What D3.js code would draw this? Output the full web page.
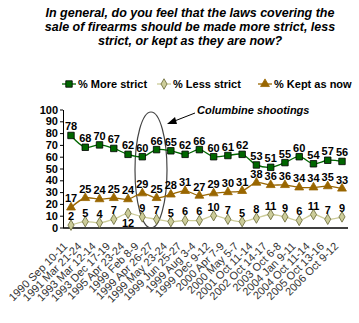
<!DOCTYPE html>
<html><head><meta charset="utf-8">
<script src="https://cdn.jsdelivr.net/npm/d3@7"></script>
<style>body{margin:0;background:#fff}svg{display:block}</style>
</head><body>
<script>
const categories = ["1990 Sep 10-11","1991 Mar 21-24","1993 Mar 12-14","1993 Dec 17-19","1995 Apr 23-24","1999 Feb 8-9","1999 Apr 26-27","1999 May 23-24","1999 Jun 25-27","1999 Aug 3-4","1999 Dec 9-12","2000 Apr 7-9","2000 May 5-7","2001 Oct 11-14","2002 Oct 14-17","2003 Oct 6-8","2004 Jan 9-11","2004 Oct 11-14","2005 Oct 13-16","2006 Oct 9-12"];
const moreStrict = [78,68,70,67,62,60,66,65,62,66,60,61,62,53,51,55,60,54,57,56];
const lessStrict = [2,5,4,7,12,9,7,5,6,6,10,7,5,8,11,9,6,11,7,9];
const keptAsNow = [17,25,24,25,24,29,25,28,31,27,29,30,31,38,36,36,34,34,35,33];
const yTicks = [0,10,20,30,40,50,60,70,80,90,100];
const titleLines = ["In general, do you feel that the laws covering the","sale of firearms should be made more strict, less","strict, or kept as they are now?"];

const W=359,H=323;
const svg=d3.select("body").append("svg").attr("width",W).attr("height",H);
const x=d3.scalePoint().domain(categories).range([71,342]);
const y=d3.scaleLinear().domain([0,100]).range([227.5,109.5]);

// title
svg.append("g").selectAll("text").data(titleLines).join("text")
 .attr("x",190).attr("y",(d,i)=>17+i*14).attr("text-anchor","middle")
 .style("font","italic bold 12.5px 'Liberation Sans',Arial,sans-serif").attr("fill","#000").text(d=>d);

// axes
const yAxis=svg.append("g").attr("transform","translate(63,0)")
 .call(d3.axisLeft(y).tickValues(yTicks).tickSize(3).tickSizeOuter(0));
yAxis.select(".domain").attr("stroke","#000");
yAxis.selectAll("text").style("font","bold 11px 'Liberation Sans',Arial,sans-serif").attr("fill","#000").attr("x",-5);
const xAxis=svg.append("g").attr("transform","translate(0,228)")
 .call(d3.axisBottom(x).tickSize(0).tickSizeOuter(0).tickFormat(""));
xAxis.select(".domain").attr("d","M63,0H348").attr("stroke","#000").attr("stroke-width",1.5);
svg.append("g").selectAll("text").data(categories).join("text")
 .attr("transform",d=>`translate(${x(d)-3},247) rotate(-45)`)
 .attr("text-anchor","end")
 .style("font","11px 'Liberation Sans',Arial,sans-serif").attr("fill","#333").text(d=>d);

// ellipse
svg.append("ellipse").attr("cx",151).attr("cy",170).attr("rx",16).attr("ry",58)
 .attr("fill","none").attr("stroke","#444").attr("stroke-width",1.2);

const series=[
 {name:"% More strict",vals:moreStrict,color:"#006600",fill:"#006600",stroke:"#000",shape:d3.symbolSquare,size:42},
 {name:"% Less strict",vals:lessStrict,color:"#cccc99",fill:"#cccc99",stroke:"#666633",shape:d3.symbolDiamond,size:32},
 {name:"% Kept as now",vals:keptAsNow,color:"#996600",fill:"#996600",stroke:"#996600",shape:d3.symbolTriangle,size:34}
];
const line=d3.line().x((d,i)=>x(categories[i])).y(d=>y(d)).curve(d3.curveCatmullRom.alpha(0.5));
series.forEach(s=>{
 const g=svg.append("g");
 g.append("path").datum(s.vals).attr("d",line).attr("fill","none").attr("stroke",s.color).attr("stroke-width",1.3);
 g.selectAll("path.m").data(s.vals).join("path").attr("class","m")
  .attr("transform",(d,i)=>`translate(${x(categories[i])},${y(d)})`)
  .attr("d",d3.symbol().type(s.shape).size(s.size)).attr("fill",s.fill).attr("stroke",s.stroke).attr("stroke-width",0.8);
 g.selectAll("text").data(s.vals).join("text")
  .attr("x",(d,i)=>x(categories[i])).attr("y",(d,i)=>(s.name==="% Less strict"&&d===12)?y(d)+14:y(d)-5)
  .attr("text-anchor","middle").style("font","bold 11px 'Liberation Sans',Arial,sans-serif").attr("fill","#000").text(d=>d);
});

// legend
const legX=[62,157,258];
series.forEach((s,i)=>{
 const g=svg.append("g").attr("transform",`translate(${legX[i]},84)`);
 g.append("line").attr("x1",0).attr("x2",14).attr("stroke",s.color).attr("stroke-width",1.3);
 g.append("path").attr("transform","translate(7,0)").attr("d",d3.symbol().type(s.shape).size(s.size)).attr("fill",s.fill).attr("stroke",s.stroke).attr("stroke-width",0.8);
 g.append("text").attr("x",16).attr("y",4).style("font","bold 11px 'Liberation Sans',Arial,sans-serif").attr("fill","#000").text(s.name);
});

// annotation
svg.append("text").attr("x",197).attr("y",114).style("font","italic bold 11px 'Liberation Sans',Arial,sans-serif").attr("fill","#000").text("Columbine shootings");
svg.append("line").attr("x1",195).attr("y1",113).attr("x2",172).attr("y2",122).attr("stroke","#000").attr("stroke-width",1);
svg.append("path").attr("d","M167,124 L175,117 L177,124 Z").attr("fill","#000");
</script>
</body></html>
